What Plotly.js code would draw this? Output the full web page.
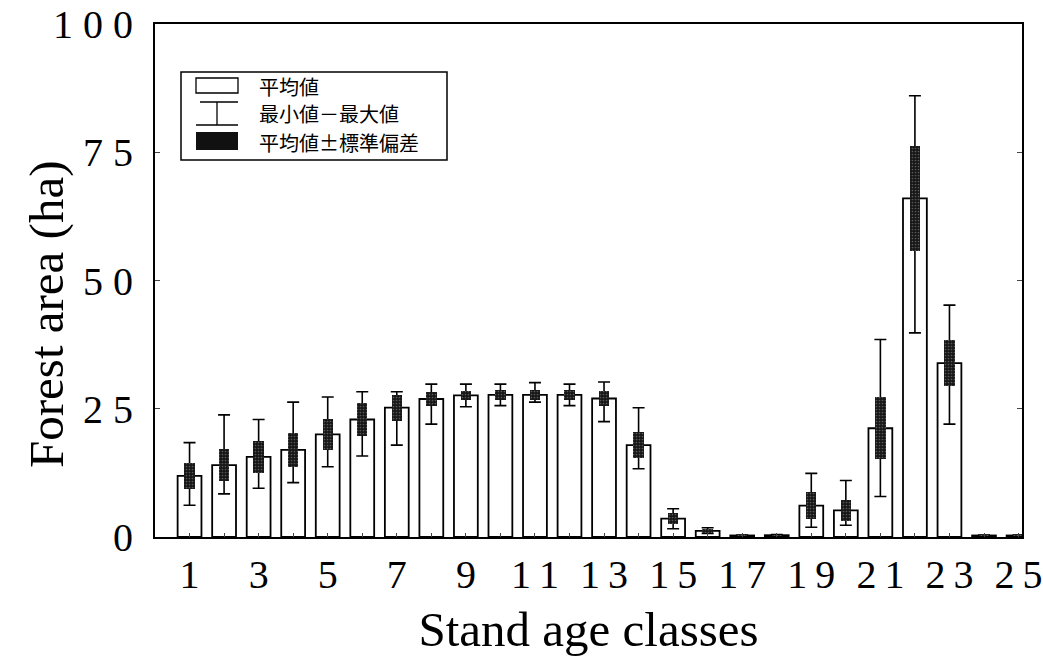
<!DOCTYPE html>
<html>
<head>
<meta charset="utf-8">
<script src="https://cdn.plot.ly/plotly-3.0.1.min.js"></script>
<style>html,body{margin:0;padding:0;background:#fff;}</style>
</head>
<body>
<div id="chart" style="width:1043px;height:658px;"></div>
<script>
// Stand age classes
const classes = [1,2,3,4,5,6,7,8,9,10,11,12,13,14,15,16,17,18,19,20,21,22,23,24,25];
// Mean forest area (ha)
const meanArea = [11.9,14.0,15.6,17.0,20.0,22.9,25.2,26.9,27.6,27.7,27.7,27.7,27.0,17.9,3.6,1.2,0.3,0.35,6.1,5.2,21.2,66.0,33.9,0.3,0.3];
// Minimum and maximum
const minArea = [6.2,8.4,9.5,10.6,13.7,15.8,17.9,22.0,25.4,25.6,26.3,25.6,22.5,13.3,1.6,0.7,0.1,0.1,1.9,2.3,7.9,39.8,22.0,0.1,0.1];
const maxArea = [18.4,23.8,22.9,26.3,27.3,28.3,28.3,29.8,29.8,29.8,30.1,29.8,30.2,25.2,5.5,1.8,0.4,0.5,12.4,11.0,38.5,86.0,45.2,0.4,0.4];
// Standard deviation
const sdArea = [2.5,3.1,3.1,3.3,2.95,3.3,2.55,1.4,0.85,1.0,1.05,1.0,1.4,2.5,1.0,0.4,0.1,0.1,2.6,2.1,6.0,10.2,4.55,0.05,0.05];
// Tick labels (spaced digits, as in the original typesetting)
const xTickLabels = ['1','','3','','5','','7','','9','','1\u20091','','1\u20093','','1\u20095','','1\u20097','','1\u20099','','2\u20091','','2\u20093','','2\u20095'];
const yTickVals = [0,25,50,75,100];
const yTickLabels = ['0','2\u20085','5\u20080','7\u20085','1\u20080\u20080'];
// Titles and legend labels
const xTitle = 'Stand age classes';
const yTitle = 'Forest area (ha)';
const legendLabels = ['平均値','最小値－最大値','平均値±標準偏差'];

const tickFont = {family:'"Liberation Serif","Times New Roman",serif', size:40, color:'#000'};
const titleFont = {family:'"Liberation Serif","Times New Roman",serif', size:49, color:'#000'};

const meanTrace = {
  type:'bar', x:classes, y:meanArea, width:0.69,
  marker:{color:'#fff', line:{color:'#000', width:1.8}},
  error_y:{type:'data', symmetric:false,
    array: maxArea.map((v,i)=>v-meanArea[i]),
    arrayminus: meanArea.map((v,i)=>v-minArea[i]),
    color:'#000', thickness:1.6, width:6},
  showlegend:false, hoverinfo:'skip'
};
const sdTrace = {
  type:'bar', x:classes, y:sdArea.map(s=>2*s), base:meanArea.map((m,i)=>m-sdArea[i]), width:0.3,
  marker:{color:'#161616', line:{width:0},
    pattern:{shape:'.', fgcolor:'#5a5a5a', bgcolor:'#161616', size:3, solidity:0.25}},
  showlegend:false, hoverinfo:'skip'
};

// plot-area pixel helpers for the hand-drawn legend and the y title
const L=155, R=1022, T=24, B=537;
const px = x => (x-L)/(R-L);
const py = y => (B-y)/(B-T);

const shapes = [
  {type:'rect', xref:'paper', yref:'paper', x0:px(181), x1:px(447), y0:py(160), y1:py(72), line:{color:'#000', width:1.5}, fillcolor:'#fff'},
  {type:'rect', xref:'paper', yref:'paper', x0:px(196), x1:px(238), y0:py(93), y1:py(78), line:{color:'#000', width:1.3}, fillcolor:'#fff'},
  {type:'line', xref:'paper', yref:'paper', x0:px(200), x1:px(238), y0:py(102), y1:py(102), line:{color:'#000', width:1.3}},
  {type:'line', xref:'paper', yref:'paper', x0:px(196), x1:px(238), y0:py(125), y1:py(125), line:{color:'#000', width:1.3}},
  {type:'line', xref:'paper', yref:'paper', x0:px(217), x1:px(217), y0:py(102), y1:py(125), line:{color:'#000', width:1.3}},
  {type:'rect', xref:'paper', yref:'paper', x0:px(196), x1:px(238), y0:py(150), y1:py(132), line:{width:0}, fillcolor:'#111'}
];
const legY = [86, 113, 142];
const annotations = legendLabels.map((t,i)=>({
  xref:'paper', yref:'paper', x:px(257), y:py(legY[i]), xanchor:'left', yanchor:'middle',
  text:t, showarrow:false, font:{family:'"Noto Sans CJK JP",sans-serif', size:20, color:'#000'}
}));
annotations.push({xref:'paper', yref:'paper', x:px(46), y:py(315), xanchor:'center', yanchor:'middle',
  textangle:-90, text:yTitle, showarrow:false, font:titleFont});

const layout = {
  width:1043, height:658,
  margin:{l:L, r:1043-R, t:T, b:658-B},
  paper_bgcolor:'#fff', plot_bgcolor:'#fff',
  barmode:'overlay', bargap:0,
  font:{color:'#000'},
  xaxis:{range:[0,25.1], tickvals:classes, ticktext:xTickLabels, ticks:'inside', ticklen:4, tickwidth:1,
    showline:true, linecolor:'#000', linewidth:2, mirror:true, showgrid:false, zeroline:false,
    tickfont:tickFont, ticklabelstandoff:1,
    title:{text:xTitle, font:titleFont, standoff:16}},
  yaxis:{range:[0,100], tickvals:yTickVals, ticktext:yTickLabels, ticks:'inside', ticklen:5, tickwidth:1,
    showline:true, linecolor:'#000', linewidth:2, mirror:'ticks', showgrid:false, zeroline:false,
    tickfont:tickFont, ticklabelstandoff:12},
  shapes:shapes, annotations:annotations, showlegend:false
};

Plotly.newPlot('chart', [meanTrace, sdTrace], layout, {displayModeBar:false, staticPlot:true});
</script>
</body>
</html>
